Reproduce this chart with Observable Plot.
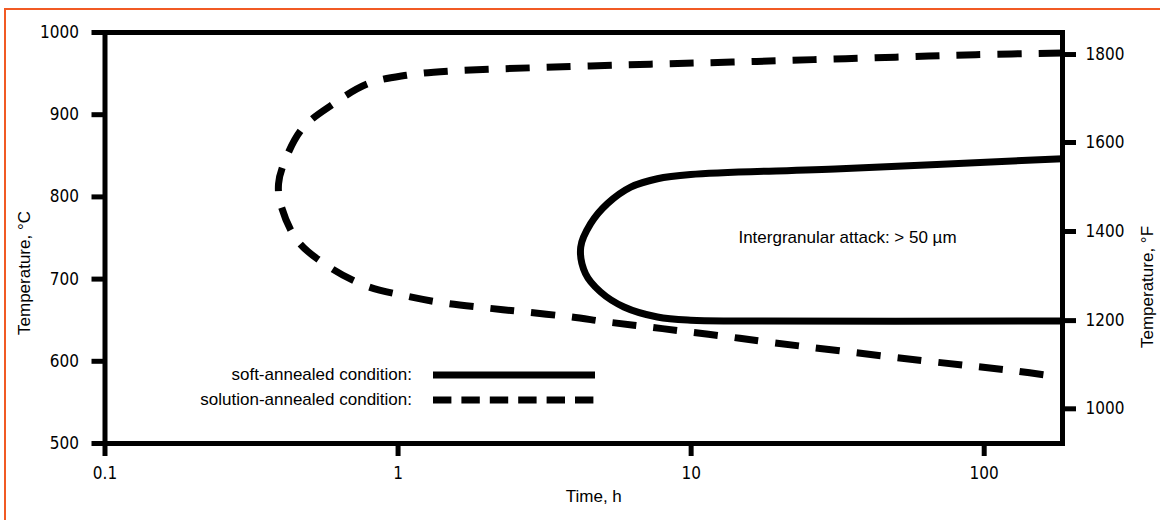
<!DOCTYPE html>
<html><head><meta charset="utf-8">
<script src="https://cdn.jsdelivr.net/npm/d3@7"></script>
<script src="https://cdn.jsdelivr.net/npm/@observablehq/plot@0.6"></script>
<style>
html,body{margin:0;padding:0;background:#fff;overflow:hidden;width:1160px;height:520px;position:relative}
#border{position:absolute;left:4px;top:8px;width:1300px;height:700px;border-left:2px solid #f15a24;border-top:2px solid #f15a24}
#chart{position:absolute;left:0;top:0}
#chart svg g[aria-label$="tick label"], #chart svg g[aria-label$="tick label"] text{font-family:"DejaVu Sans Condensed","DejaVu Sans",sans-serif;font-stretch:condensed;font-size:17px;font-variant:normal}
#legend{position:absolute;left:0;top:0;width:1160px;height:520px;pointer-events:none;font-family:"Liberation Sans",Arial,sans-serif;font-size:17px;color:#000}
.lg-text{position:absolute;left:0;width:412px;text-align:right;height:20px;line-height:20px;white-space:nowrap}
.lg-line{position:absolute;left:433px;width:162px;height:10px}
</style>
</head><body>
<div id="border"></div>
<div id="chart"></div>
<div id="legend"></div>
<script>
// Solution-annealed condition (dashed curve): time in h, temperature in °C
const solutionTime = [185, 93.5, 49.9, 26.2, 13.8, 7.27, 2.83, 1.49, 1.07, 0.794, 0.601, 0.471, 0.407, 0.391, 0.397, 0.453, 0.581, 0.774, 1.047, 1.43, 1.99, 2.72, 3.88, 5.18, 7.09, 9.7, 13.3, 18.2, 64.8, 123, 185];
const solutionTemp = [975, 973, 970, 967, 964, 961.5, 957, 953, 948, 938, 913, 883, 840, 816, 792, 747, 715, 692, 680, 671, 665, 660, 654, 647.8, 642, 636, 630, 623.5, 600, 589, 580.5];
// Soft-annealed condition (solid curve)
const softTime = [185, 32.4, 9.96, 7.67, 6.22, 5.18, 4.54, 4.2, 4.36, 4.91, 5.9, 7.67, 9.96, 14.8, 185];
const softTemp = [846.5, 834.3, 827.2, 822.1, 811.9, 791.8, 767.4, 739, 706.7, 684.3, 666.1, 653.9, 649.9, 649, 649];

const xTicks = [0.1, 1, 10, 100];
const xTickLabels = ["0.1", "1", "10", "100"];
const cTicks = [500, 600, 700, 800, 900, 1000];
const fTickLabels = ["1000", "1200", "1400", "1600", "1800"];
const fTickAsC = [542.2, 649.5, 757.9, 866.2, 973.2];
const noteTime = [14.5];
const noteTemp = [751];
const noteText = ["Intergranular attack: > 50 µm"];
const legendLabels = ["soft-annealed condition:", "solution-annealed condition:"];
const xLabel = "Time, h";
const yLabelC = "Temperature, °C";
const yLabelF = "Temperature, °F";

const solution = solutionTime.map((t, i) => ({t, T: solutionTemp[i]}));
const soft = softTime.map((t, i) => ({t, T: softTemp[i]}));
const notes = noteTime.map((t, i) => ({t, T: noteTemp[i], text: noteText[i]}));
const fLabelMap = new Map(fTickAsC.map((c, i) => [c, fTickLabels[i]]));
const xLabelMap = new Map(xTicks.map((v, i) => [v, xTickLabels[i]]));

const chart = Plot.plot({
  width: 1160,
  height: 520,
  marginLeft: 104.5,
  marginRight: 98,
  marginTop: 32,
  marginBottom: 77,
  x: {type: "log", domain: [0.1, 185]},
  y: {domain: [500, 1000]},
  style: {fontFamily: "'Liberation Sans', Arial, sans-serif", fontSize: "17px", color: "black", background: "transparent", overflow: "visible"},
  marks: [
    Plot.line(solution, {x: "t", y: "T", curve: "catmull-rom", stroke: "black", strokeWidth: 7, strokeDasharray: "24 17", strokeLinecap: "butt"}),
    Plot.line(soft, {x: "t", y: "T", curve: "catmull-rom", stroke: "black", strokeWidth: 7, strokeLinecap: "butt"}),
    Plot.frame({stroke: "black", strokeWidth: 5}),
    Plot.axisX(xTicks, {anchor: "bottom", tickSize: 13, tickPadding: 10, strokeWidth: 5, tickFormat: d => xLabelMap.get(d), label: null}),
    Plot.axisY(cTicks, {anchor: "left", tickSize: 13, tickPadding: 13, strokeWidth: 5, tickFormat: d => String(d), label: null}),
    Plot.axisY(fTickAsC, {anchor: "right", tickSize: 13, tickPadding: 10, strokeWidth: 5, tickFormat: d => fLabelMap.get(d), label: null}),
    Plot.text(notes, {x: "t", y: "T", text: "text", textAnchor: "start", fontSize: 17}),
    Plot.text([yLabelC], {frameAnchor: "left", textAnchor: "middle", dx: -80.5, dy: 35, rotate: -90, fontSize: 17}),
    Plot.text([yLabelF], {frameAnchor: "right", textAnchor: "middle", dx: 85.5, dy: 49, rotate: -90, fontSize: 17}),
    Plot.text([xLabel], {frameAnchor: "bottom", textAnchor: "middle", dx: 10, dy: 58.5, fontSize: 17})
  ]
});
document.getElementById("chart").appendChild(chart);

// Legend (inside the plot area, lower left)
const legend = document.getElementById("legend");
const legendDash = [null, "18.4 10"];
const rowCenters = [375, 400];
legendLabels.forEach((label, i) => {
  const t = document.createElement("div");
  t.className = "lg-text";
  t.style.top = (rowCenters[i] - 10) + "px";
  t.textContent = label;
  legend.appendChild(t);
  const svgNS = "http://www.w3.org/2000/svg";
  const s = document.createElementNS(svgNS, "svg");
  s.setAttribute("class", "lg-line");
  s.setAttribute("width", 162);
  s.setAttribute("height", 10);
  s.style.top = (rowCenters[i] - 5) + "px";
  const ln = document.createElementNS(svgNS, "line");
  ln.setAttribute("x1", 0); ln.setAttribute("x2", 162);
  ln.setAttribute("y1", 5); ln.setAttribute("y2", 5);
  ln.setAttribute("stroke", "black");
  ln.setAttribute("stroke-width", 7);
  if (legendDash[i]) ln.setAttribute("stroke-dasharray", legendDash[i]);
  s.appendChild(ln);
  legend.appendChild(s);
});
</script>
</body></html>
